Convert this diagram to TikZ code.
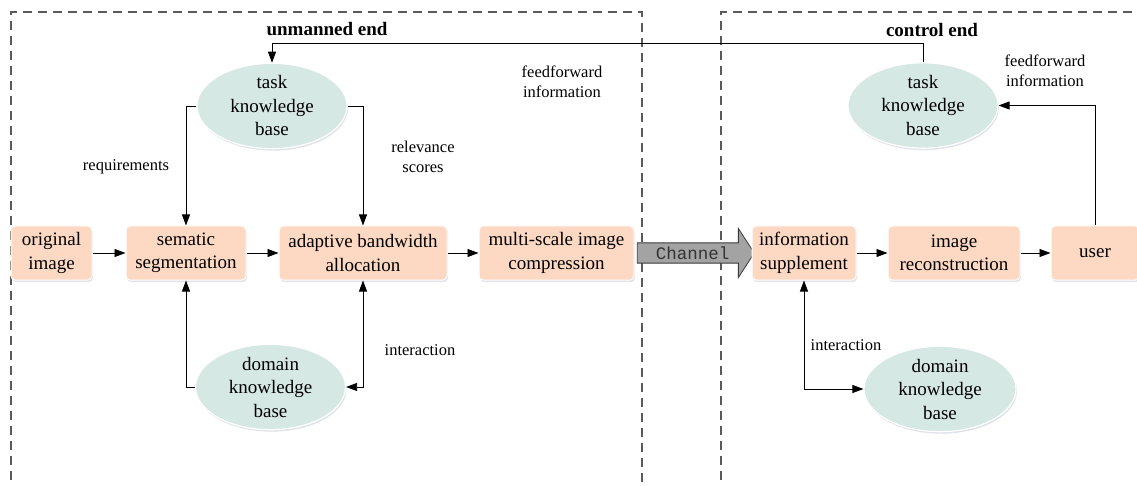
\documentclass[tikz,border=0pt]{standalone}
\usepackage{fontspec}
\setmainfont{Liberation Serif}
\setmonofont{Liberation Mono}
\usetikzlibrary{arrows.meta,positioning,calc,shapes.geometric,shapes.arrows,shadows}
\definecolor{ProcFill}{HTML}{FDD9C3}
\definecolor{KnowFill}{HTML}{D6E8E4}
\definecolor{ChanFill}{HTML}{A3A3A3}
\definecolor{ChanBord}{HTML}{3A3A3A}
\definecolor{ZoneBord}{HTML}{5A5A5A}
\definecolor{ShadeCol}{HTML}{B8C0D0}
\tikzset{
  every picture/.append style={>=Triangle},
  mainfont/.style={font=\fontsize{19}{23.5}\selectfont},
  smallfont/.style={font=\fontsize{16.5}{20}\selectfont},
  proc/.style={rectangle, rounded corners=4pt, draw=white, line width=1pt, fill=ProcFill,
               mainfont, align=center, minimum height=54pt, inner sep=2pt,
               drop shadow={shadow xshift=1pt, shadow yshift=-2pt, opacity=0.45, fill=ShadeCol}},
  know/.style={ellipse, draw=white, line width=1.2pt, fill=KnowFill, mainfont, align=center,
               minimum width=150pt, minimum height=74pt, inner sep=0pt,
               drop shadow={shadow xshift=1pt, shadow yshift=-2pt, opacity=0.45, fill=ShadeCol}},
  lbl/.style={smallfont, align=center},
  ttl/.style={font=\fontsize{19}{23}\selectfont\bfseries},
  flow/.style={-{Triangle[length=11pt,width=8pt]}, line width=0.8pt, draw=black},
  both/.style={{Triangle[length=11pt,width=8pt]}-{Triangle[length=11pt,width=8pt]}, line width=0.8pt, draw=black},
  zone/.style={draw=ZoneBord, line width=1.3pt, dash pattern=on 9pt off 6pt},
  chan/.style={single arrow, draw=ChanBord, fill=ChanFill, line width=0.8pt,
               minimum height=117pt, minimum width=49pt, single arrow head extend=12.5pt,
               single arrow tip angle=114, inner xsep=0pt, inner ysep=2pt,
               font=\fontsize{17.5}{17.5}\ttfamily, text=black!80},
}
\begin{document}
\begin{tikzpicture}[x=1pt,y=-1pt]
\useasboundingbox (0,0) rectangle (1137,486);
\clip (0,0) rectangle (1137,486);

% ---------------- the two ends -------------------------------------------------
\draw[zone] (11,600) -- (11,12) -- (642,12) -- (642,600);
\draw[zone] (721,600) -- (721,12) -- (1200,12);
\node[ttl] (une) at (327,29) {unmanned end};
\node[ttl] (cte) at (932,30) {control end};

% ---------------- unmanned end -------------------------------------------------
\node[proc, minimum width=81pt] (org) at (51.5,253) {original\\image};
\node[proc, minimum width=120pt] (seg) at (186,253) {sematic\\segmentation};
\node[proc, minimum width=168pt] (aba) at (363,253) {adaptive bandwidth\\allocation};
\node[proc, minimum width=155pt] (msc) at (556.5,253) {multi-scale image\\compression};
\node[know] (tkl) at (272,106) {task\\knowledge\\base};
\node[know] (dkl) at (270.5,387) {domain\\knowledge\\base};

\draw[flow] (org) -- (seg);
\draw[flow] (seg) -- (aba);
\draw[flow] (aba) -- (msc);
\draw[flow] (tkl.west) -| (seg.north);
\draw[flow] (tkl.east) -| (aba.north);
\draw[flow] (dkl.west) -| (seg.south);
\draw[both] (aba.south) |- (dkl.east);

\node[lbl] (req) at (126,167) {requirements};
\node[lbl] (rel) at (423,157) {relevance\\scores};
\node[lbl] (ffl) at (562,82) {feedforward\\information};
\node[lbl] (inl) at (420,350) {interaction};

% ---------------- channel ------------------------------------------------------
\node[chan] (chn) at (692.5,253) {Channel};

% ---------------- control end --------------------------------------------------
\node[proc, minimum width=104pt] (inf) at (804,253) {information\\supplement};
\node[proc, minimum width=132pt] (rec) at (954,253) {image\\reconstruction};
\node[proc, minimum width=88pt] (usr) at (1095,253) {user};
\node[know] (tkr) at (923,105.5) {task\\knowledge\\base};
\node[know, minimum width=152pt] (dkr) at (940,389) {domain\\knowledge\\base};

\draw[flow] (inf) -- (rec);
\draw[flow] (rec) -- (usr);
\draw[flow] (usr.north) |- (tkr.east);
\draw[both] (inf.south) |- (dkr.west);

\node[lbl] (ffr) at (1045,71) {feedforward\\information};
\node[lbl] (inr) at (846,345) {interaction};

% ---------------- feedforward across the channel -------------------------------
\coordinate (fbk) at (0,43);
\draw[flow] (tkr.north) |- (fbk -| tkl.north) -- (tkl.north);

\end{tikzpicture}
\end{document}
